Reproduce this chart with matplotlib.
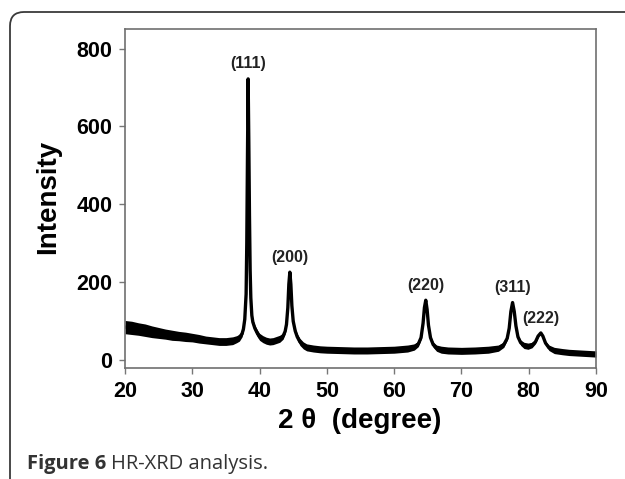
import matplotlib.pyplot as plt
from matplotlib.patches import FancyBboxPatch
from matplotlib.transforms import IdentityTransform
import numpy as np

plt.rcParams['font.family'] = ['Liberation Sans', 'DejaVu Sans']

# XRD trace: 2theta (deg), intensity, half-width of the noise band
two_theta = [20.0, 21.0, 22.0, 23.0, 24.0, 25.0, 26.0, 27.0, 28.0, 29.0,
             30.0, 31.0, 32.0, 33.0, 34.0, 35.0, 36.0, 36.6, 37.0, 37.4,
             37.6, 37.8, 38.0, 38.1, 38.2, 38.3, 38.4, 38.5, 38.6, 38.7,
             38.85, 39.0, 39.3, 39.7, 40.0, 40.5, 41.0, 41.5, 42.0, 42.5,
             43.0, 43.5, 43.8, 44.0, 44.2, 44.35, 44.5, 44.65, 44.8, 45.0,
             45.3, 45.6, 46.0, 46.5, 47.0, 48.0, 49.0, 50.0, 52.0, 54.0,
             56.0, 58.0, 60.0, 62.0, 63.0, 63.6, 64.0, 64.3, 64.5, 64.7,
             64.9, 65.1, 65.4, 65.8, 66.3, 67.0, 68.0, 70.0, 72.0, 74.0,
             75.5, 76.3, 76.8, 77.1, 77.35, 77.6, 77.85, 78.1, 78.4, 78.8,
             79.3, 79.9, 80.5, 81.0, 81.4, 81.8, 82.1, 82.5, 83.0, 83.8,
             85.0, 86.0, 87.0, 88.0, 89.0, 90.0]
intensity = [85, 83, 80, 77, 73, 70, 67, 64, 62, 60,
             58, 55, 52, 50, 48, 48, 50, 54, 58, 68,
             80, 105, 170, 300, 520, 722, 560, 370, 230, 160,
             115, 98, 82, 68, 60, 54, 50, 48, 49, 52,
             55, 62, 74, 92, 135, 195, 226, 195, 140, 100,
             75, 60, 47, 38, 33, 30, 28, 27, 26, 25,
             25, 26, 27, 30, 34, 42, 58, 95, 135, 154,
             130, 90, 58, 40, 31, 27, 25, 24, 25, 27,
             31, 40, 56, 82, 125, 148, 125, 88, 60, 45,
             38, 36, 39, 47, 62, 70, 62, 44, 32, 25,
             22, 20, 19, 18, 17, 16]
noise = [17, 17, 16, 16, 15, 14, 13, 13, 12, 12,
         11, 11, 10, 10, 10, 10, 10, 9, 9, 8,
         7, 6, 4, 3, 2, 0, 2, 3, 4, 5,
         6, 7, 8, 9, 9, 9, 9, 9, 9, 9,
         9, 8, 7, 5, 4, 3, 0, 3, 4, 5,
         7, 8, 9, 9, 9, 9, 9, 9, 9, 9,
         9, 9, 9, 9, 8, 7, 5, 4, 3, 0,
         3, 4, 5, 7, 8, 9, 9, 9, 9, 9,
         8, 7, 5, 4, 3, 0, 3, 4, 5, 7,
         8, 8, 7, 5, 4, 0, 4, 5, 7, 8,
         8, 8, 8, 8, 8, 8]

# Peak labels (Miller indices)
peak_names = ['(111)', '(200)', '(220)', '(311)', '(222)']
peak_theta = [38.3, 44.5, 64.7, 77.6, 81.8]
peak_height = [729, 231, 158, 152, 73]

fig = plt.figure(figsize=(6.25, 4.79), dpi=100)
ax = fig.add_axes([0.2, 0.2317, 0.7536, 0.7077])

tt = np.array(two_theta)
yy = np.array(intensity)
nn = np.array(noise)
ax.fill_between(tt, yy - nn, yy + nn, color='black', lw=0)
ax.plot(tt, yy, color='black', lw=2.4)

for name, x, h in zip(peak_names, peak_theta, peak_height):
    ax.annotate(name, xy=(x, h), xytext=(0, 4), textcoords='offset points',
                ha='center', va='bottom', fontsize=11.5, fontweight='bold',
                color='#222222')

ax.set_xlim(20, 90)
ax.set_ylim(-20, 850)
ax.set_xticks(range(20, 91, 10))
ax.set_yticks(range(0, 801, 200))
ax.tick_params(direction='out', length=4, width=1, color='#777777',
               labelsize=15.5, pad=5)
for lab in ax.get_xticklabels() + ax.get_yticklabels():
    lab.set_fontweight('bold')
for sp in ax.spines.values():
    sp.set_color('#6f6f6f')
    sp.set_linewidth(1.2)

fig.text(360 / 625, 1 - 421 / 479, '2 \u03b8  (degree)', ha='center', va='center',
         fontsize=20, fontweight='bold')
fig.text(48 / 625, 1 - 197 / 479, 'Intensity', rotation=90, ha='center',
         va='center', fontsize=20, fontweight='bold')

# outer rounded frame (only top/left visible)
frame = FancyBboxPatch((10, -60), 800, 527, boxstyle='round,pad=0,rounding_size=14',
                       transform=IdentityTransform(), fill=False,
                       edgecolor='#3a3a3a', linewidth=1.3)
fig.add_artist(frame)

# caption: bold "Figure 6" then regular text
t1 = fig.text(27 / 625, 10 / 479, 'Figure 6', family='Open Sans', fontweight='bold',
              fontsize=14.5, color='#333333', va='baseline')
fig.canvas.draw()
bb = t1.get_window_extent()
fig.text((bb.x1 + 5) / 625, 10 / 479, 'HR-XRD analysis.', family='Open Sans',
         fontsize=14.5, color='#333333', va='baseline')

fig.savefig('out.png', dpi=100)
